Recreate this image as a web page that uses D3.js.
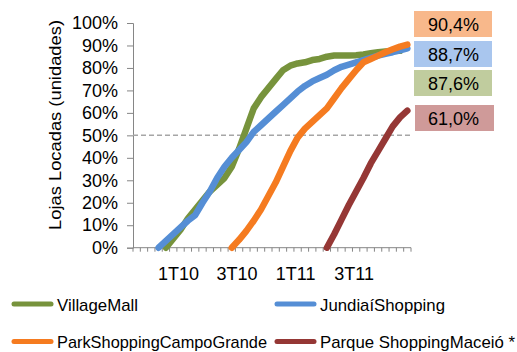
<!DOCTYPE html>
<html>
<head>
<meta charset="utf-8">
<script src="https://cdn.jsdelivr.net/npm/d3@7"></script>
<style>
  body { margin: 0; background: #fff; }
  text { font-family: "Liberation Sans", Arial, sans-serif; fill: #000; }
</style>
</head>
<body>
<div id="chart"></div>
<script>
// category labels (most periods have no label)
var xLabels = ["", "", "", "", "", "", "1T10", "", "", "", "", "", "", "", "3T10", "", "", "", "", "", "", "", "1T11", "", "", "", "", "", "", "", "3T11", "", "", "", "", "", "", ""];

var yTicks = [0, 10, 20, 30, 40, 50, 60, 70, 80, 90, 100];

// occupancy (%) per period, null = mall not yet in pre-leasing
var village = [null, null, null, null, 0, 4, 8, 13, 17, 21, 25, 28, 31, 36, 44, 53, 62, 67, 71, 75, 79, 81, 82, 82.5, 83.5, 84, 85, 85.5, 85.5, 85.5, 85.7, 86, 86.5, 87, 87.3, 87.5, 87.6, null];
var jundiai = [null, null, null, 0, 3, 6, 9, 12, 14.5, 20, 25, 31, 36, 40, 43.5, 47, 51.5, 54.5, 57.5, 60.5, 63.5, 66.5, 69.5, 72, 74, 75.5, 77, 79, 80.5, 81.5, 82.5, 83.5, 84.5, 85.5, 86.3, 87, 87.8, 88.7];
var campoGrande = [null, null, null, null, null, null, null, null, null, null, null, null, null, 0, 3.5, 7.5, 12, 17, 23, 29, 36, 43, 49, 53, 56, 59, 62, 66.5, 71, 75, 79, 82.5, 84, 85.5, 87, 88.3, 89.5, 90.4];
var maceio = [null, null, null, null, null, null, null, null, null, null, null, null, null, null, null, null, null, null, null, null, null, null, null, null, null, null, 0, 6, 12.5, 19, 25, 31, 37.5, 43, 48.5, 54, 58, 61];

var seriesNames = ["VillageMall", "JundiaíShopping", "ParkShoppingCampoGrande", "Parque ShoppingMaceió *"];
var seriesColors = ["#77933C", "#558ED5", "#F57B20", "#953735"];
var boxColors = ["#C0CC9E", "#A9C6EE", "#F8B88B", "#CF9A99"];

var svgWidth = 517, svgHeight = 352;
var margin = { top: 23, left: 133, right: 106, bottom: 104 };
var chartWidth = svgWidth - margin.left - margin.right;
var chartHeight = svgHeight - margin.top - margin.bottom - 0.3;

var svg = d3.select("#chart").append("svg")
    .attr("width", svgWidth)
    .attr("height", svgHeight);

var g = svg.append("g")
    .attr("transform", `translate(${margin.left}, ${margin.top})`);

var x = d3.scaleBand()
    .domain(d3.range(xLabels.length))
    .range([0, chartWidth]);

var y = d3.scaleLinear()
    .domain([0, 100])
    .range([chartHeight, 0]);

// y axis
var yAxis = d3.axisLeft(y).tickValues(yTicks).tickSize(6).tickPadding(9)
    .tickFormat(d => d + "%");
var yg = g.append("g").call(yAxis);
yg.select(".domain").attr("stroke", "#868686");
yg.selectAll(".tick line").attr("stroke", "#868686");
yg.selectAll(".tick text").style("font-size", "18px").attr("fill", "#000");

// x axis: ticks between categories like excel
g.append("line")
    .attr("x1", 0).attr("x2", chartWidth)
    .attr("y1", chartHeight).attr("y2", chartHeight)
    .attr("stroke", "#868686");
g.append("g").selectAll("line")
    .data(d3.range(xLabels.length + 1))
    .enter().append("line")
    .attr("x1", i => i < xLabels.length ? x(i) : chartWidth)
    .attr("x2", i => i < xLabels.length ? x(i) : chartWidth)
    .attr("y1", chartHeight).attr("y2", chartHeight + 4)
    .attr("stroke", "#868686");
g.append("g").selectAll("text")
    .data(xLabels.map((l, i) => ({ l: l, i: i })).filter(d => d.l !== ""))
    .enter().append("text")
    .attr("x", d => x(d.i) + x.bandwidth() / 2 - 2)
    .attr("y", chartHeight + 32)
    .attr("text-anchor", "middle")
    .style("font-size", "18px")
    .text(d => d.l);

// 50% reference
g.append("line")
    .attr("x1", 0).attr("x2", chartWidth)
    .attr("y1", y(50)).attr("y2", y(50))
    .attr("stroke", "#A6A6A6")
    .attr("stroke-width", 1.5)
    .attr("stroke-dasharray", "5,3");

// y title
svg.append("text")
    .attr("transform", "rotate(-90)")
    .attr("x", -125)
    .attr("y", 61)
    .attr("text-anchor", "middle")
    .attr("textLength", 210)
    .attr("lengthAdjust", "spacingAndGlyphs")
    .style("font-size", "17px")
    .text("Lojas Locadas (unidades)");

var allSeries = [village, jundiai, campoGrande, maceio];

var line = d3.line()
    .defined(d => d != null)
    .x((d, i) => x(i) + x.bandwidth() / 2)
    .y(d => y(d));

// draw order: green, blue, maroon, orange on top
[0, 1, 3, 2].forEach(function(k) {
    g.append("path")
        .datum(allSeries[k])
        .attr("fill", "none")
        .attr("stroke", seriesColors[k])
        .attr("stroke-width", 6.5)
        .attr("stroke-linejoin", "round")
        .attr("stroke-linecap", "round")
        .attr("d", line);
});

// final value boxes
var boxes = [
    { k: 2, top: 11 },
    { k: 1, top: 41 },
    { k: 0, top: 70 },
    { k: 3, top: 105 }
];
var fmt = v => d3.format(".1f")(v).replace(".", ",") + "%";
boxes.forEach(function(b) {
    var vals = allSeries[b.k].filter(v => v != null);
    var w = b.k == 3 ? 79 : 78;
    svg.append("rect")
        .attr("x", b.k == 3 ? 415 : 414)
        .attr("y", b.top)
        .attr("width", w)
        .attr("height", 26)
        .attr("fill", boxColors[b.k]);
    svg.append("text")
        .attr("x", 453.5)
        .attr("y", b.top + 19.5)
        .attr("text-anchor", "middle")
        .style("font-size", "18px")
        .attr("fill", "#000")
        .text(fmt(vals[vals.length - 1]));
});

// legend
var legendPos = [
    { x: 12, y: 304, len: 81 },
    { x: 275, y: 304, len: 125 },
    { x: 12, y: 341.5, len: 210 },
    { x: 275, y: 341.5, len: 195 }
];
seriesNames.forEach(function(name, k) {
    var p = legendPos[k];
    svg.append("line")
        .attr("x1", p.x + 2).attr("x2", p.x + 39)
        .attr("y1", p.y).attr("y2", p.y)
        .attr("stroke", seriesColors[k])
        .attr("stroke-width", 5)
        .attr("stroke-linecap", "round");
    svg.append("text")
        .attr("x", p.x + 45)
        .attr("y", p.y + 6.5)
        .attr("textLength", p.len)
        .attr("lengthAdjust", "spacingAndGlyphs")
        .style("font-size", "17px")
        .text(name);
});
</script>
</body>
</html>
